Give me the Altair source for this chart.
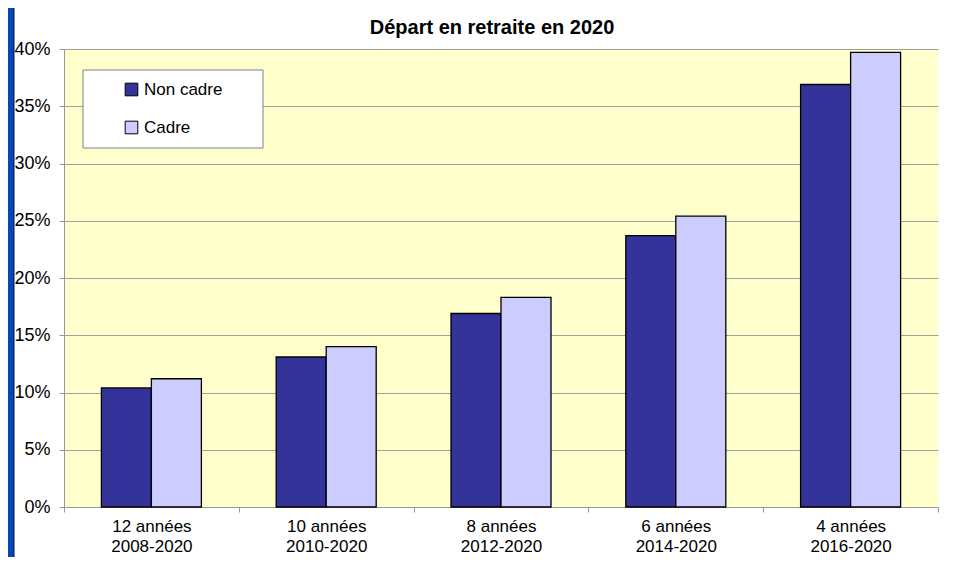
import altair as alt
import pandas as pd

durations = ["12 années", "10 années", "8 années", "6 années", "4 années"]
periods = ["2008-2020", "2010-2020", "2012-2020", "2014-2020", "2016-2020"]
series_names = ["Non cadre", "Cadre"]
non_cadre = [0.104, 0.131, 0.169, 0.237, 0.369]
cadre = [0.112, 0.140, 0.183, 0.254, 0.397]
series_colors = ["#333399", "#CCCCFF"]
y_ticks = [0.0, 0.05, 0.10, 0.15, 0.20, 0.25, 0.30, 0.35, 0.40]
title_text = "Départ en retraite en 2020"

categories = [f"{d}|{p}" for d, p in zip(durations, periods)]
rows = []
for c, a, b in zip(categories, non_cadre, cadre):
    rows.append({"cat": c, "series": series_names[0], "value": a})
    rows.append({"cat": c, "series": series_names[1], "value": b})
df = pd.DataFrame(rows)

W, H = 874, 458
FONT = "Liberation Sans"
GRAY = "#999999"

one = pd.DataFrame({"d": [0]})

stripe = alt.Chart(one).mark_rect(color="#0349B5").encode(
    x=alt.value(-56), x2=alt.value(-50), y=alt.value(-41), y2=alt.value(H + 50)
)
stripe_edge = alt.Chart(one).mark_rule(color="#111133", strokeWidth=1).encode(
    x=alt.value(-50), y=alt.value(-41), y2=alt.value(H + 50)
)

title_mark = alt.Chart(one).mark_text(
    text=title_text, font=FONT, fontSize=20, fontWeight="bold", color="black",
    align="center", baseline="alphabetic",
).encode(x=alt.value(428), y=alt.value(-15))

bars = alt.Chart(df).mark_bar(stroke="black", strokeWidth=1.3).encode(
    x=alt.X(
        "cat:N", sort=categories,
        scale=alt.Scale(paddingInner=0, paddingOuter=0),
        axis=alt.Axis(
            title=None, labelExpr="split(datum.label, '|')", tickBand="extent",
            labelAngle=0, labelFontSize=17, labelLineHeight=20, labelPadding=6,
            labelFont=FONT, labelColor="black", tickSize=5, tickColor=GRAY,
            domainColor=GRAY, grid=False, labelLimit=0,
        ),
    ),
    xOffset=alt.XOffset(
        "series:N", sort=series_names,
        scale=alt.Scale(paddingInner=0, paddingOuter=0.748),
    ),
    y=alt.Y(
        "value:Q",
        scale=alt.Scale(domain=[0, 0.4], nice=False),
        axis=alt.Axis(
            values=y_ticks, format=".0%", title=None, grid=True,
            gridColor="#A0A0A0", domainColor=GRAY, tickColor=GRAY, tickSize=5,
            labelFontSize=18, labelFont=FONT, labelColor="black", labelPadding=9,
        ),
    ),
    color=alt.Color(
        "series:N", sort=series_names,
        scale=alt.Scale(domain=series_names, range=series_colors),
        legend=alt.Legend(
            orient="none", legendX=59, legendY=32, title=None,
            symbolType="square", symbolSize=160, symbolStrokeColor="black",
            symbolStrokeWidth=1, symbolOpacity=1, labelFontSize=17, labelFont=FONT,
            labelColor="black", rowPadding=20, labelOffset=4, padding=0,
        ),
    ),
)

legend_box = alt.Chart(one).mark_rect(fill="white", stroke="#808080", strokeWidth=1).encode(
    x=alt.value(19), x2=alt.value(199), y=alt.value(21), y2=alt.value(99)
)

chart = alt.layer(stripe, stripe_edge, title_mark, bars, legend_box).properties(
    width=W, height=H,
    padding={"left": 56, "top": 41, "right": 9, "bottom": 50},
    autosize=alt.AutoSizeParams(type="none"),
    background="white",
).configure_view(fill="#FFFFCC", stroke=None)

chart.save("out.html", embed_options={"renderer": "svg", "actions": False})
